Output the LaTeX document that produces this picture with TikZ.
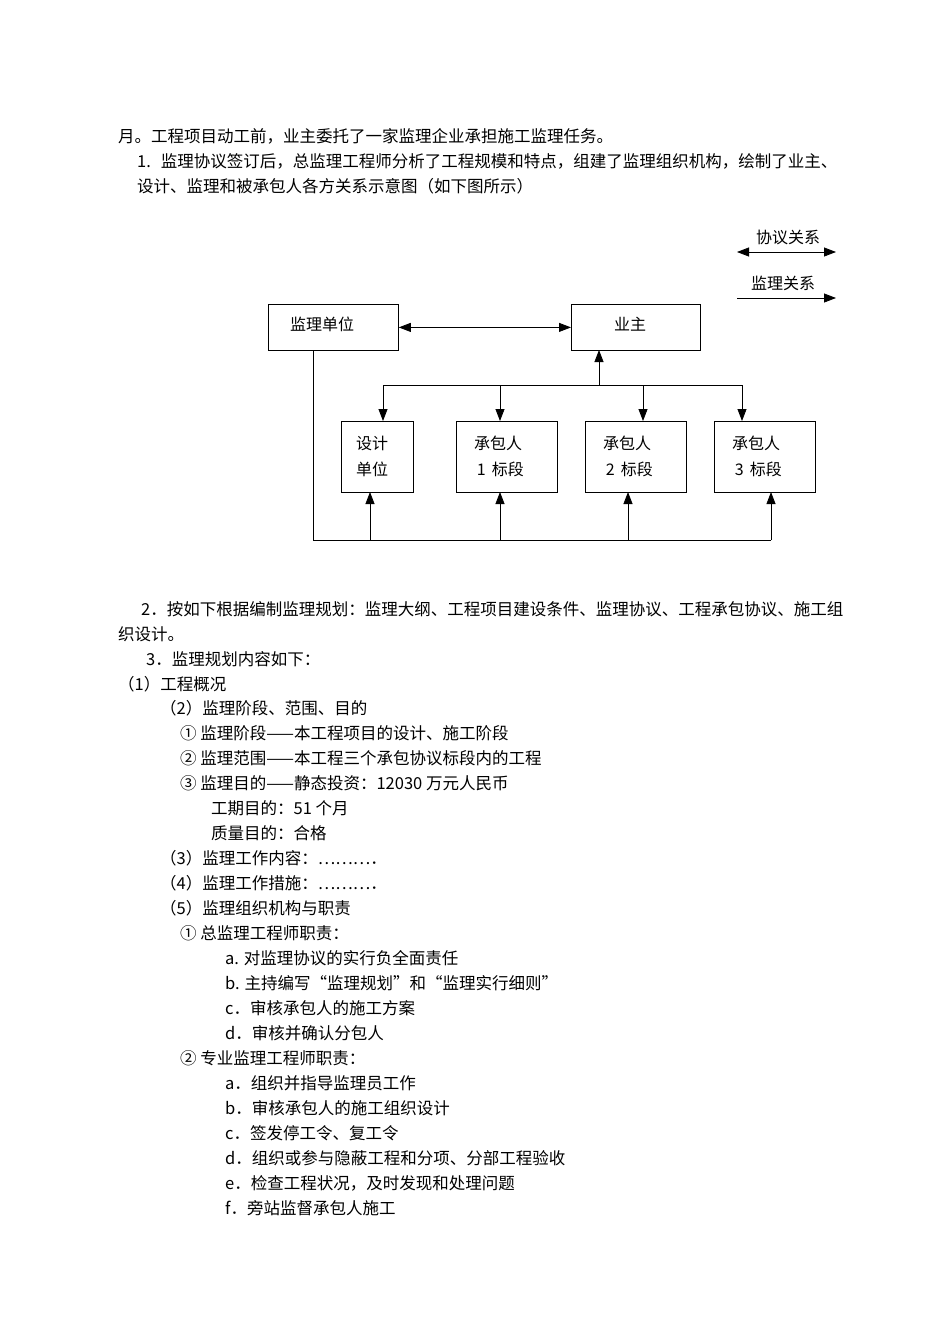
\documentclass[tikz,border=0pt]{standalone}
\usepackage{fontspec}
\setmainfont{Noto Sans CJK SC}
\usetikzlibrary{arrows.meta}
\begin{document}
\begin{tikzpicture}[x=1pt,y=-1pt,
  txt/.style={anchor=west,inner sep=0pt,font=\fontsize{16.5}{19}\selectfont},
  bx/.style={draw,line width=0.8pt,inner sep=0pt,anchor=north west},
  lab/.style={inner sep=0pt,font=\fontsize{16}{19}\selectfont},
  ln/.style={line width=0.8pt},
  ar/.style={line width=0.8pt,-{Triangle[length=12pt,width=9pt]}},
  dar/.style={line width=0.8pt,{Triangle[length=12pt,width=9pt]}-{Triangle[length=12pt,width=9pt]}}]
\useasboundingbox (0,0) rectangle (950,1344);
\fill[white] (0,0) rectangle (950,1344);
% paragraphs
\node[txt] (t1) at (118,136) {月。工程项目动工前，业主委托了一家监理企业承担施工监理任务。};
\node[txt] (t2) at (137,161) {1.\hspace{0.6em}监理协议签订后，总监理工程师分析了工程规模和特点，组建了监理组织机构，绘制了业主、};
\node[txt] (t3) at (137,186) {设计、监理和被承包人各方关系示意图（如下图所示）};
% diagram
\node[bx,minimum width=130pt,minimum height=46pt] (jl) at (268,304) {};
\node[lab] at (322,324) {监理单位};
\node[bx,minimum width=129pt,minimum height=46pt] (yz) at (571,304) {};
\node[lab] at (630,324) {业主};
\node[bx,minimum width=72pt,minimum height=71pt] (sj) at (341,421) {};
\node[lab,align=left] at (372,456) {设计\\[7pt]单位};
\node[bx,minimum width=101pt,minimum height=71pt] (c1) at (456,421) {};
\node[lab,align=left] at (499,456) {承包人\\[7pt]\,1 \,标段};
\node[bx,minimum width=101pt,minimum height=71pt] (c2) at (585,421) {};
\node[lab,align=left] at (628,456) {承包人\\[7pt]\,2 \,标段};
\node[bx,minimum width=101pt,minimum height=71pt] (c3) at (714,421) {};
\node[lab,align=left] at (757,456) {承包人\\[7pt]\,3 \,标段};
\draw[dar] (jl.east) -- (yz.west);
\coordinate (bt) at (599,385);
\draw[ar] (bt) -- (599,350);
\draw[ln] (383,385) -- (742,385);
\draw[ar] (383,385) -- (383,421);
\draw[ar] (500,385) -- (500,421);
\draw[ar] (643,385) -- (643,421);
\draw[ar] (742,385) -- (742,421);
\draw[ln] (313,350) -- (313,540) -- (771,540);
\draw[ar] (370,540) -- (370,492);
\draw[ar] (500,540) -- (500,492);
\draw[ar] (628,540) -- (628,492);
\draw[ar] (771,540) -- (771,492);
% legend
\node[lab] (lg1) at (788,237) {协议关系};
\coordinate (l1a) at (737,252); \coordinate (l1b) at (836,252);
\draw[dar] (l1a) -- (l1b);
\node[lab] (lg2) at (783,283) {监理关系};
\coordinate (l2a) at (737,298); \coordinate (l2b) at (836,298);
\draw[ar] (l2a) -- (l2b);
% lower text
\node[txt] at (141,609) {2．按如下根据编制监理规划：监理大纲、工程项目建设条件、监理协议、工程承包协议、施工组};
\node[txt] at (118,634) {织设计。};
\node[txt] at (146,659) {3．监理规划内容如下：};
\node[txt] at (118,684) {（1）工程概况};
\node[txt] at (160,708) {（2）监理阶段、范围、目的};
\node[txt] at (180,733) {① 监理阶段——本工程项目的设计、施工阶段};
\node[txt] at (180,758) {② 监理范围——本工程三个承包协议标段内的工程};
\node[txt] at (180,783) {③ 监理目的——静态投资：12030 万元人民币};
\node[txt] at (211,808) {工期目的：51 个月};
\node[txt] at (211,833) {质量目的：合格};
\node[txt] at (160,858) {（3）监理工作内容：………．};
\node[txt] at (160,883) {（4）监理工作措施：………．};
\node[txt] at (160,908) {（5）监理组织机构与职责};
\node[txt] at (180,933) {① 总监理工程师职责：};
\node[txt] at (225,958) {a. 对监理协议的实行负全面责任};
\node[txt] at (225,983) {b. 主持编写“监理规划”和“监理实行细则”};
\node[txt] at (225,1008) {c．审核承包人的施工方案};
\node[txt] at (225,1033) {d．审核并确认分包人};
\node[txt] at (180,1058) {② 专业监理工程师职责：};
\node[txt] at (225,1083) {a．组织并指导监理员工作};
\node[txt] at (225,1108) {b．审核承包人的施工组织设计};
\node[txt] at (225,1133) {c．签发停工令、复工令};
\node[txt] at (225,1158) {d．组织或参与隐蔽工程和分项、分部工程验收};
\node[txt] at (225,1183) {e．检查工程状况，及时发现和处理问题};
\node[txt] at (225,1208) {f．旁站监督承包人施工};
\end{tikzpicture}
\end{document}
